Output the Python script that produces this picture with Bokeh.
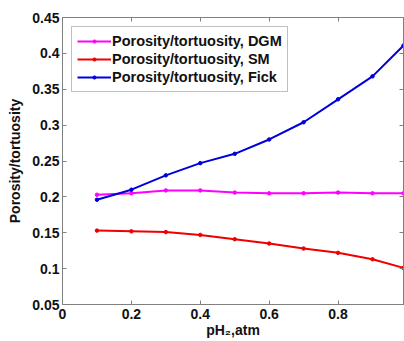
from bokeh.plotting import figure
from bokeh.models import Range1d, LinearAxis, FixedTicker, CustomJSTickFormatter, Legend, LegendItem
from bokeh.embed import file_html
from bokeh.resources import INLINE

ph2 = [0.1, 0.2, 0.3, 0.4, 0.5, 0.6, 0.7, 0.8, 0.9, 0.99]
dgm = [0.203, 0.205, 0.209, 0.209, 0.206, 0.205, 0.205, 0.206, 0.205, 0.205]
sm = [0.153, 0.152, 0.151, 0.147, 0.141, 0.135, 0.128, 0.122, 0.113, 0.101]
fick = [0.196, 0.21, 0.230, 0.247, 0.260, 0.280, 0.304, 0.336, 0.368, 0.411]
x_ticks = [0, 0.2, 0.4, 0.6, 0.8]
y_ticks = [0.05, 0.1, 0.15, 0.2, 0.25, 0.3, 0.35, 0.4, 0.45]
labels = ["Porosity/tortuosity, DGM", "Porosity/tortuosity, SM", "Porosity/tortuosity, Fick"]
colors = ["#ff00ff", "#ee0000", "#0000dd"]

FONT = "Liberation Sans"
AXC = "#808080"
fmt = CustomJSTickFormatter(code="return String(parseFloat(tick.toFixed(2)));")

p = figure(width=404, height=341, output_backend="svg", toolbar_location=None,
           x_range=Range1d(0, 0.99), y_range=Range1d(0.05, 0.45),
           min_border_left=62, min_border_top=17, min_border_right=1, min_border_bottom=37)
p.grid.visible = False
p.outline_line_color = AXC
p.background_fill_color = "white"

for ax, ticks in ((p.xaxis[0], x_ticks), (p.yaxis[0], y_ticks)):
    ax.ticker = FixedTicker(ticks=ticks)
    ax.formatter = fmt
    ax.major_tick_in = 4
    ax.major_tick_out = 0
    ax.minor_tick_line_color = None
    ax.axis_line_color = AXC
    ax.major_tick_line_color = AXC
    ax.major_label_text_font = FONT
    ax.major_label_text_font_style = "bold"
    ax.major_label_text_font_size = "14px"
    ax.major_label_text_color = "#111111"
    ax.axis_label_text_font = FONT
    ax.axis_label_text_font_style = "bold"
    ax.axis_label_text_font_size = "14px"
    ax.axis_label_text_color = "#111111"

p.xaxis[0].axis_label = "pH\u2082,atm"
p.xaxis[0].axis_label_standoff = 0
p.xaxis[0].major_label_standoff = 4
p.yaxis[0].axis_label = "Porosity/tortuosity"
p.yaxis[0].major_label_standoff = 3
p.yaxis[0].axis_label_standoff = 6

for loc, ticks in (("above", x_ticks), ("right", y_ticks)):
    a = LinearAxis(ticker=FixedTicker(ticks=ticks), major_label_text_color=None,
                   major_label_text_font_size="1px",
                   major_tick_in=4, major_tick_out=0, minor_tick_line_color=None,
                   axis_line_color=AXC, major_tick_line_color=AXC, major_label_standoff=0)
    p.add_layout(a, loc)

items = []
for ys, c, lab in zip([dgm, sm, fick], colors, labels):
    l = p.line(ph2, ys, line_color=c, line_width=2)
    s = p.scatter(ph2, ys, size=3.5, color=c)
    items.append(LegendItem(label=lab, renderers=[l, s]))

leg = Legend(items=items, location="top_left")
leg.label_text_font = FONT
leg.label_text_font_style = "bold"
leg.label_text_font_size = "14.5px"
leg.label_text_color = "#111111"
leg.glyph_width = 34
leg.glyph_height = 8
leg.label_height = 18
leg.spacing = 0
leg.padding = 5
leg.margin = 9
leg.label_standoff = 1
leg.border_line_color = AXC
leg.border_line_width = 1
p.add_layout(leg)

open("out.html", "w").write(file_html(p, INLINE))
